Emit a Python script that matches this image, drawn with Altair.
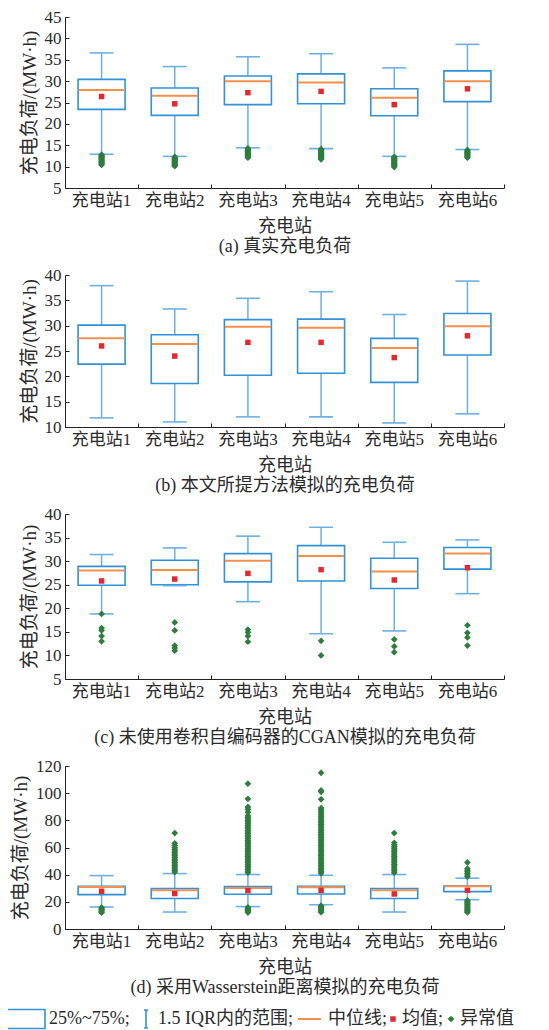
import altair as alt
import pandas as pd

FONT = "Liberation Serif, Noto Sans CJK SC"
BOX_C = "#3391d8"
WHISK_C = "#6db0e3"
MED_C = "#f2904f"
MEAN_C = "#e02a2e"
OUT_C = "#2e7d3e"
TXT_C = "#2b2b2b"

stations = ["充电站1", "充电站2", "充电站3", "充电站4", "充电站5", "充电站6"]

# ---------- (a) 真实充电负荷 ----------
a_low = [12.9, 12.4, 14.4, 14.2, 12.4, 14.0]
a_q1 = [23.4, 22.0, 24.5, 24.7, 21.9, 25.2]
a_med = [27.9, 26.6, 30.0, 29.7, 26.1, 30.0]
a_mean = [26.4, 24.7, 27.3, 27.6, 24.5, 28.2]
a_q3 = [30.4, 28.4, 31.2, 31.7, 28.2, 32.4]
a_high = [36.6, 33.4, 35.7, 36.4, 33.1, 38.6]
a_out = [
    [12.8, 12.6, 12.4, 12.2, 12.0, 11.8, 11.6, 11.4, 11.2, 11.0, 10.8, 10.6, 10.4],
    [12.3, 12.1, 11.9, 11.7, 11.5, 11.3, 11.1, 10.9, 10.7, 10.5, 10.3, 10.1],
    [14.3, 14.1, 13.9, 13.7, 13.5, 13.3, 13.1, 12.9, 12.7, 12.5, 12.3, 12.1],
    [14.1, 13.9, 13.7, 13.5, 13.3, 13.1, 12.9, 12.7, 12.5, 12.3, 12.1, 11.9, 11.7],
    [12.3, 12.1, 11.9, 11.7, 11.5, 11.3, 11.1, 10.9, 10.7, 10.5, 10.3, 10.1, 9.9],
    [13.9, 13.7, 13.5, 13.3, 13.1, 12.9, 12.7, 12.5, 12.3, 12.1],
]

# ---------- (b) 本文所提方法模拟的充电负荷 ----------
b_low = [11.8, 11.0, 12.0, 12.0, 10.8, 12.6]
b_q1 = [22.4, 18.6, 20.2, 20.6, 18.8, 24.2]
b_med = [27.5, 26.4, 29.8, 29.6, 25.6, 29.9]
b_mean = [26.0, 24.0, 26.7, 26.7, 23.7, 28.0]
b_q3 = [30.1, 28.2, 31.2, 31.3, 27.5, 32.4]
b_high = [37.9, 33.3, 35.4, 36.7, 32.2, 38.8]
b_out = [[], [], [], [], [], []]

# ---------- (c) 未使用卷积自编码器的CGAN模拟的充电负荷 ----------
c_low = [18.8, 24.8, 21.4, 14.6, 15.2, 23.1]
c_q1 = [24.9, 25.0, 25.6, 25.8, 24.2, 28.3]
c_med = [28.0, 28.1, 30.1, 31.1, 27.8, 31.6]
c_mean = [25.8, 26.2, 27.4, 28.2, 26.0, 28.6]
c_q3 = [28.9, 30.2, 31.6, 33.3, 30.6, 32.9]
c_high = [31.4, 32.8, 35.3, 37.2, 34.0, 34.5]
c_out = [
    [18.8, 15.8, 15.3, 14.1, 13.0],
    [17.0, 15.3, 12.1, 11.6, 11.0],
    [15.5, 14.9, 14.1, 12.9],
    [13.1, 10.0],
    [13.4, 11.9, 10.7],
    [16.4, 14.8, 13.8, 12.1],
]

# ---------- (d) 采用Wasserstein距离模拟的充电负荷 ----------
d_low = [16.2, 12.5, 16.5, 17.9, 12.5, 21.6]
d_q1 = [25.3, 22.4, 25.6, 25.8, 22.4, 27.5]
d_med = [31.0, 28.5, 30.2, 30.7, 28.5, 31.5]
d_mean = [27.8, 26.1, 28.3, 28.5, 25.8, 28.5]
d_q3 = [31.5, 29.8, 31.2, 31.5, 29.8, 31.7]
d_high = [39.3, 40.8, 40.1, 39.6, 40.1, 37.4]
d_out = [
    [15.8, 15.0, 14.3, 13.5, 12.7, 12.0],
    [41.9, 43.1, 44.2, 45.5, 46.7, 47.9, 49.1, 50.3, 51.4, 52.7, 53.9, 55.0,
     56.3, 57.5, 58.6, 59.9, 61.4, 63.1, 70.6],
    [41.4, 42.6, 43.8, 45.1, 46.2, 47.4, 48.7, 49.9, 51.0, 52.3, 53.5, 54.6,
     55.9, 57.1, 58.2, 59.5, 60.7, 61.8, 63.1, 64.3, 65.4, 66.7, 67.9, 69.0,
     70.3, 71.5, 72.6, 73.9, 75.1, 76.2, 77.5, 78.7, 79.8, 81.1, 82.3, 83.4,
     86.0, 88.1, 89.9, 95.8, 107.0,
     16.0, 15.2, 14.4, 13.6, 12.8, 12.1],
    [41.0, 42.2, 43.4, 44.5, 45.8, 47.0, 48.1, 49.4, 50.6, 51.7, 53.0, 54.2,
     55.3, 56.6, 57.8, 58.9, 60.2, 61.4, 62.5, 63.8, 65.0, 66.1, 67.4, 68.6,
     69.7, 71.0, 72.2, 73.3, 74.6, 75.8, 76.9, 78.2, 79.4, 80.5, 81.8, 83.0,
     84.1, 85.4, 86.6, 87.7, 89.0, 95.5, 101.0, 102.0, 115.0,
     17.2, 16.4, 15.6, 14.8, 14.0, 13.2, 12.4],
    [41.5, 42.7, 43.8, 45.1, 46.3, 47.4, 48.7, 49.9, 51.0, 52.3, 53.5, 54.6,
     55.9, 57.1, 58.2, 59.5, 60.7, 62.0, 63.5, 70.6],
    [38.5, 39.7, 40.8, 42.1, 43.3, 44.4, 49.0,
     21.0, 20.2, 19.4, 18.6, 17.8, 17.0, 16.2, 15.4, 14.6, 13.8, 13.0, 12.2],
]

# ---------- legend items ----------
leg_labels = ["25%~75%;", "1.5 IQR内的范围;", "中位线;", "均值;", "异常值"]
leg_colors = [BOX_C, BOX_C, MED_C, MEAN_C, OUT_C]

W = 439


def legend_layer(label, color, sym_type, sym_size, filled, lx, ly, loff, sw):
    df = pd.DataFrame({"k": [label]})
    lg = alt.Legend(title=None, orient="none", legendX=lx, legendY=ly,
                    symbolType=sym_type, symbolSize=sym_size, symbolStrokeWidth=sw,
                    labelFont=FONT, labelFontSize=18, labelColor=TXT_C,
                    labelOffset=loff, padding=0, labelLimit=400)
    sc = alt.Scale(domain=[label], range=[color])
    base = alt.Chart(df).transform_filter("false").mark_point(filled=filled, opacity=1)
    if filled:
        return base.encode(fill=alt.Fill("k:N", scale=sc, legend=lg))
    return base.encode(stroke=alt.Stroke("k:N", scale=sc, legend=lg))


def panel(low, q1, med, mean, q3, high, outl, ydom, yvals, h, caption, legend=False):
    box = pd.DataFrame({"st": stations, "low": low, "q1": q1, "med": med,
                        "mean": mean, "q3": q3, "high": high})
    out = pd.DataFrame([(s, v) for s, vals in zip(stations, outl) for v in vals],
                       columns=["st", "v"])
    xsc = alt.Scale(domain=stations, paddingInner=0, paddingOuter=0)
    ysc = alt.Scale(domain=ydom, nice=False, zero=False)

    x_main = alt.X("st:N", scale=xsc, axis=alt.Axis(
        title=["充电站", caption], labelAngle=0, ticks=False, labelFont=FONT,
        labelFontSize=17, labelColor=TXT_C, labelPadding=4, titleFont=FONT,
        titleFontSize=18, titleFontWeight="normal", titleColor=TXT_C,
        titlePadding=9, titleLineHeight=20,
        domainColor="#222", domainWidth=1, grid=False))
    y_main = alt.Y("low:Q", scale=ysc, axis=alt.Axis(
        title="充电负荷/(MW·h)", values=yvals, ticks=False, labelFont=FONT,
        labelFontSize=17, labelColor=TXT_C, labelPadding=4, titleFont=FONT,
        titleFontSize=19, titleFontWeight="normal", titleColor=TXT_C,
        titlePadding=5, domainColor="#222", domainWidth=1, grid=False))
    x_tick = alt.X("st:N", scale=xsc, axis=alt.Axis(
        orient="top", offset=-h, labels=False, domain=False, ticks=True,
        tickSize=4, tickColor="#222", tickBand="extent", title=None, grid=False))
    y_tick = alt.Y("q1:Q", scale=ysc, axis=alt.Axis(
        orient="right", offset=-W, labels=False, domain=False, ticks=True,
        tickSize=4, tickColor="#222", values=yvals, title=None, grid=False))
    xn = alt.X("st:N", scale=xsc, axis=None)

    base = alt.Chart(box)
    whisker = base.mark_rule(color=WHISK_C, strokeWidth=1.5).encode(
        x=x_main, y=y_main, y2="high:Q")
    boxes = base.mark_bar(size=47, fill="white", stroke=BOX_C, strokeWidth=1.6).encode(
        x=x_tick, y=y_tick, y2="q3:Q")
    cap_lo = base.mark_tick(size=24, thickness=1.6, color=WHISK_C, opacity=1).encode(
        x=xn, y=alt.Y("low:Q", scale=ysc, axis=None))
    cap_hi = base.mark_tick(size=24, thickness=1.6, color=WHISK_C, opacity=1).encode(
        x=xn, y=alt.Y("high:Q", scale=ysc, axis=None))
    median = base.mark_tick(size=46, thickness=2, color=MED_C, opacity=1).encode(
        x=xn, y=alt.Y("med:Q", scale=ysc, axis=None))
    means = base.mark_point(shape="square", filled=True, size=30, color=MEAN_C, opacity=1).encode(
        x=xn, y=alt.Y("mean:Q", scale=ysc, axis=None))
    layers = [whisker, boxes, cap_lo, cap_hi, median, means]
    if len(out):
        outs = alt.Chart(out).mark_point(shape="diamond", filled=True, size=45,
                                         color=OUT_C, opacity=1).encode(
            x=xn, y=alt.Y("v:Q", scale=ysc, axis=None))
        layers.append(outs)
    if legend:
        cy = 253  # legend row centre below plot top
        layers += [
            legend_layer(leg_labels[0], leg_colors[0], "M-1,-0.5H1V0.5H-1Z", 1444,
                         False, -59, cy - 20, 3, 1.6),
            legend_layer(leg_labels[1], leg_colors[1],
                         "M-0.22,-1H0.22M0,-1V1M-0.22,1H0.22", 324,
                         False, 71, cy - 10, 2, 1.6),
            legend_layer(leg_labels[2], leg_colors[2], "M-1,0H1", 529,
                         False, 232, cy - 12.5, 6, 2),
            legend_layer(leg_labels[3], leg_colors[3], "square", 30,
                         True, 319, cy - 9, 0, 0),
            legend_layer(leg_labels[4], leg_colors[4], "diamond", 45,
                         True, 377, cy - 9, 0, 0),
        ]
    ch = alt.layer(*layers).resolve_axis(x="independent", y="independent")
    if legend:
        ch = ch.resolve_scale(stroke="independent", fill="independent")
    return ch.properties(width=W, height=h)


pa = panel(a_low, a_q1, a_med, a_mean, a_q3, a_high, a_out, [5, 45],
           [5, 10, 15, 20, 25, 30, 35, 40, 45], 171, "(a) 真实充电负荷")
pb = panel(b_low, b_q1, b_med, b_mean, b_q3, b_high, b_out, [10, 40],
           [10, 15, 20, 25, 30, 35, 40], 152, "(b) 本文所提方法模拟的充电负荷")
pc = panel(c_low, c_q1, c_med, c_mean, c_q3, c_high, c_out, [5, 40],
           [5, 10, 15, 20, 25, 30, 35, 40], 165, "(c) 未使用卷积自编码器的CGAN模拟的充电负荷")
pdd = panel(d_low, d_q1, d_med, d_mean, d_q3, d_high, d_out, [0, 120],
            [0, 20, 40, 60, 80, 100, 120], 163, "(d) 采用Wasserstein距离模拟的充电负荷",
            legend=True)

chart = alt.vconcat(pa, pb, pc, pdd, spacing=11).resolve_scale(
    stroke="independent", fill="independent"
).properties(
    padding={"left": -2, "top": 0, "right": 2, "bottom": 0},
    background="white",
).configure_view(stroke=None)

chart.save("out.html", embed_options={"renderer": "svg", "actions": False})
